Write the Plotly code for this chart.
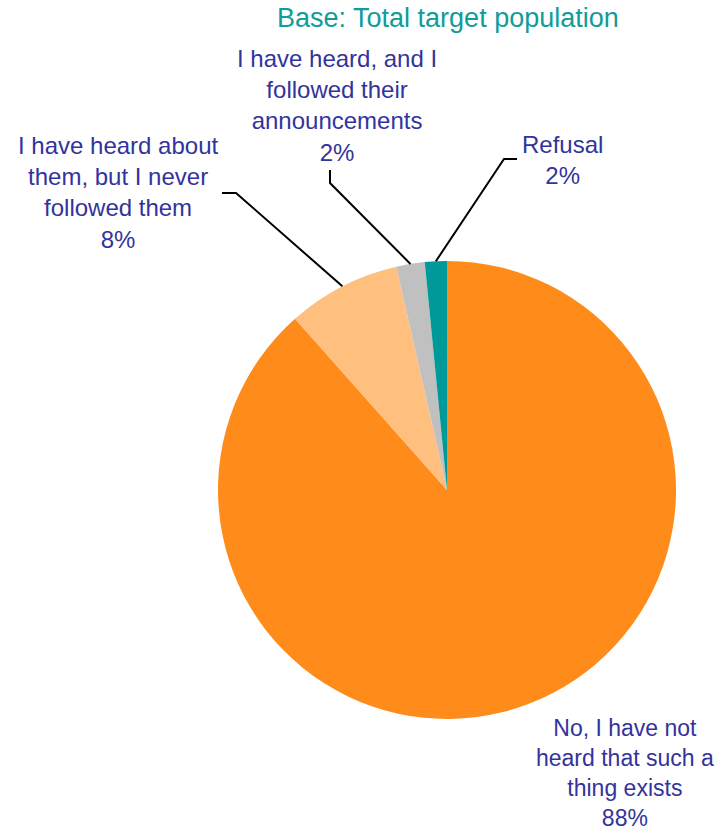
import math
import plotly.graph_objects as go

# Survey answers and their shares (%)
categories = [
    "No, I have not<br>heard that such a<br>thing exists",
    "I have heard about<br>them, but I never<br>followed them",
    "I have heard, and I<br>followed their<br>announcements",
    "Refusal",
]
shares = [88.45, 8.0, 2.0, 1.55]
colors = ["#FF8C1A", "#FFBF7F", "#C0C0C0", "#009999"]

W, H = 722, 833
CX, CY, R = 447, 490, 229          # pie centre / radius in pixels
TEXT_COLOR = "#33339C"
FONT = "Liberation Sans, Arial, sans-serif"


def px(x, y):
    """Pixel position -> paper coordinates."""
    return x / W, 1 - y / H


fig = go.Figure()
fig.add_trace(go.Pie(
    labels=categories,
    values=shares,
    sort=False,
    direction="clockwise",
    rotation=0,
    marker=dict(colors=colors, line=dict(width=0)),
    textinfo="none",
    hoverinfo="label+percent",
    domain=dict(x=[(CX - R) / W, (CX + R) / W],
                y=[1 - (CY + R) / H, 1 - (CY - R) / H]),
    showlegend=False,
))

total = sum(shares)
cum = 0.0
mid_points = []
for v in shares:
    mid = (cum + v / 2) / total
    cum += v
    theta = 2 * math.pi * mid
    mid_points.append((CX + R * math.sin(theta), CY - R * math.cos(theta)))

# label block centres, font sizes and leader-line elbows (pixels)
label_pos = [(625, 773), (118, 193), (337, 105), (562, 160)]
label_size = [23, 24, 24, 24]
elbows = [None, [(222, 193), (236, 193)], [(330, 170), (330, 183)],
          [(517, 159), (504, 159)]]

annotations = []
shapes = []
for i, (cat, v) in enumerate(zip(categories, shares)):
    pct = round(100 * v / total)
    lx, ly = px(*label_pos[i])
    annotations.append(dict(
        x=lx, y=ly, xref="paper", yref="paper",
        text=f"{cat}<br>{pct}%", showarrow=False,
        xanchor="center", yanchor="middle", align="center",
        font=dict(family=FONT, size=label_size[i], color=TEXT_COLOR),
    ))
    if elbows[i]:
        pts = elbows[i] + [mid_points[i]]
        path = "M " + " L ".join(
            f"{px(x, y)[0]:.5f},{px(x, y)[1]:.5f}" for x, y in pts)
        shapes.append(dict(type="path", path=path, xref="paper", yref="paper",
                           line=dict(color="black", width=2)))

tx, ty = px(448, 18)
annotations.append(dict(
    x=tx, y=ty, xref="paper", yref="paper",
    text="Base: Total target population", showarrow=False,
    xanchor="center", yanchor="middle",
    font=dict(family=FONT, size=27, color="#109C98"),
))

fig.update_layout(
    width=W, height=H,
    margin=dict(l=0, r=0, t=0, b=0),
    paper_bgcolor="white", plot_bgcolor="white",
    annotations=annotations, shapes=shapes,
)

fig.write_html("out.html")
